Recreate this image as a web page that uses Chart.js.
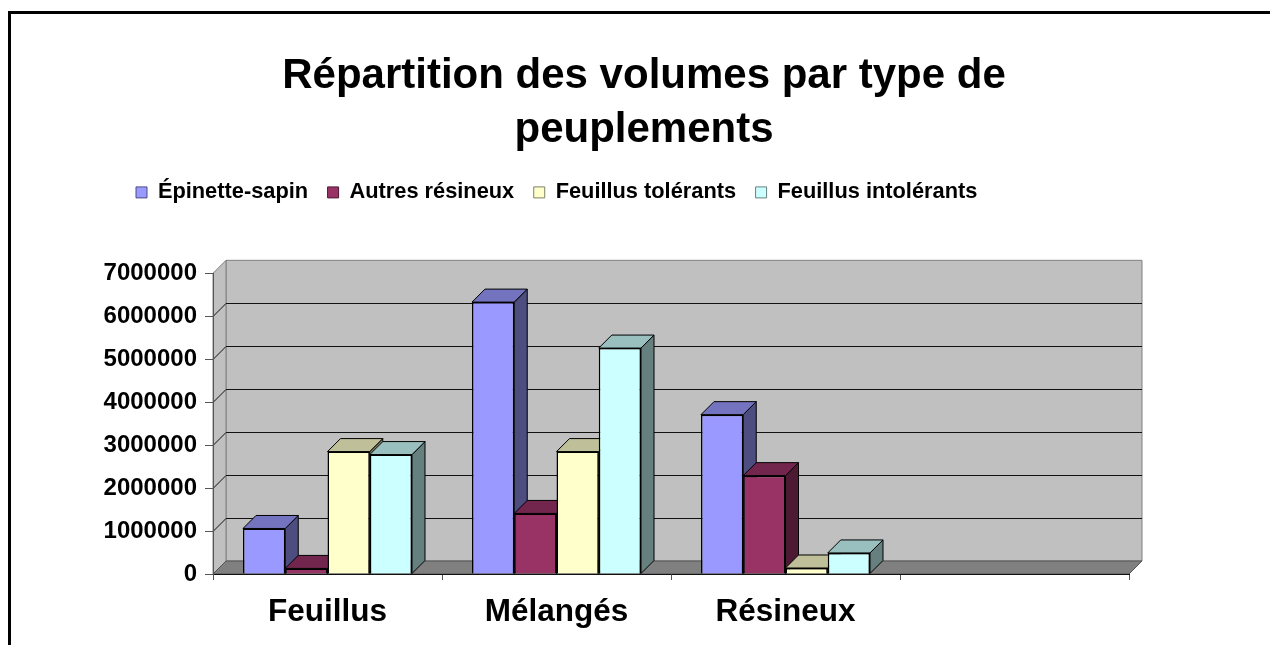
<!DOCTYPE html>
<html lang="fr">
<head>
<meta charset="utf-8">
<title>Répartition des volumes</title>
<script src="https://cdn.jsdelivr.net/npm/chart.js@4/dist/chart.umd.min.js"></script>
<style>
  body { margin: 0; background: #fff; overflow: hidden; }
  #wrap { position: relative; width: 1270px; height: 645px; }
  #frame { position: absolute; left: 8px; top: 11px; right: 0; bottom: 0; border-left: 3px solid #000; border-top: 3px solid #000; }
  canvas { position: absolute; left: 0; top: 0; }
</style>
</head>
<body>
<div id="wrap">
  <div id="frame"></div>
  <canvas id="chart" width="1270" height="645"></canvas>
</div>
<script>
const CATEGORIES = ["Feuillus", "Mélangés", "Résineux", ""];
const SERIES_NAMES = ["Épinette-sapin", "Autres résineux", "Feuillus tolérants", "Feuillus intolérants"];
const EPINETTE = [1060000, 6330000, 3710000];
const AUTRES = [130000, 1410000, 2290000];
const TOLERANTS = [2850000, 2850000, 140000];
const INTOLERANTS = [2780000, 5260000, 490000];
const Y_MAX = 7000000;
const Y_STEP = 1000000;

const FRONT = ["#9999FF", "#993366", "#FFFFCC", "#CCFFFF"];
const TOP = ["#7373BF", "#73264D", "#BFBF99", "#99BFBF"];
const SIDE = ["#4D4D80", "#4D1A33", "#808066", "#668080"];
const DEPTH = 13;
const FONT = "'Liberation Sans', Arial, sans-serif";

function poly(ctx, pts, fill, stroke) {
  ctx.beginPath();
  pts.forEach(([x, y], i) => (i ? ctx.lineTo(x, y) : ctx.moveTo(x, y)));
  ctx.closePath();
  ctx.fillStyle = fill;
  ctx.fill();
  if (stroke) {
    ctx.strokeStyle = stroke;
    ctx.lineWidth = 1;
    ctx.stroke();
  }
}

// ── Back wall, side wall, floor and grid of the fake 3D box ──
const box3d = {
  id: "box3d",
  afterLayout(chart) {
    // title and legend are not centred on the page in the original
    chart.titleBlock.left = 200;
    chart.titleBlock.right = 1088;
    chart.legend.left = 136 - 19.5;
    chart.legend.top = 162;
  },
  beforeDraw(chart) {
    const { ctx, chartArea: a, scales: { y } } = chart;
    const d = DEPTH;
    ctx.save();
    poly(ctx, [[a.left + d, a.top - d], [a.right + d, a.top - d], [a.right + d, a.bottom - d], [a.left + d, a.bottom - d]], "#C0C0C0", "#808080");
    poly(ctx, [[a.left, a.top], [a.left + d, a.top - d], [a.left + d, a.bottom - d], [a.left, a.bottom]], "#C0C0C0", "#808080");
    poly(ctx, [[a.left, a.bottom], [a.left + d, a.bottom - d], [a.right + d, a.bottom - d], [a.right, a.bottom]], "#808080", "#555");
    ctx.strokeStyle = "#111";
    ctx.lineWidth = 1;
    for (let v = Y_STEP; v < Y_MAX; v += Y_STEP) {
      const py = Math.round(y.getPixelForValue(v)) + 0.5;
      ctx.beginPath();
      ctx.moveTo(a.left, py);
      ctx.lineTo(a.left + d, py - d);
      ctx.lineTo(a.right + d, py - d);
      ctx.stroke();
    }
    ctx.restore();
  },
  // the library paints the first series last, here each bar must cover the side of its left neighbour
  beforeDatasetDraw() {
    return false;
  },
  afterDatasetsDraw(chart) {
    const { ctx } = chart;
    const d = DEPTH;
    SERIES_NAMES.forEach((name, i) => {
      const meta = chart.getDatasetMeta(i);
      ctx.save();
      meta.data.forEach(bar => {
        const x0 = bar.x - bar.width / 2;
        const x1 = bar.x + bar.width / 2;
        const yt = bar.y;
        const yb = bar.base;
        poly(ctx, [[x1, yt], [x1 + d, yt - d], [x1 + d, yb - d], [x1, yb]], SIDE[i], "#000");
        poly(ctx, [[x0, yt], [x1, yt], [x1 + d, yt - d], [x0 + d, yt - d]], TOP[i], "#000");
      });
      ctx.restore();
      meta.controller.draw();
    });
  }
};

const seriesValues = [EPINETTE, AUTRES, TOLERANTS, INTOLERANTS];

new Chart(document.getElementById("chart"), {
  type: "bar",
  data: {
    labels: CATEGORIES,
    datasets: SERIES_NAMES.map((name, i) => ({
      label: name,
      data: seriesValues[i],
      backgroundColor: FRONT[i],
      borderColor: "#000",
      borderWidth: 1.5,
      categoryPercentage: 0.738,
      barPercentage: 1
    }))
  },
  options: {
    responsive: false,
    animation: false,
    layout: { padding: { left: 0, right: 141, top: 0, bottom: 0 } },
    plugins: {
      tooltip: { enabled: false },
      title: {
        display: true,
        text: ["Répartition des volumes par type de", "peuplements"],
        color: "#000",
        font: { family: FONT, size: 42, weight: "bold", lineHeight: 1.286 },
        padding: { top: 49, bottom: 65 }
      },
      legend: {
        display: true,
        position: "top",
        align: "start",
        labels: {
          color: "#000",
          font: { family: FONT, size: 21.8, weight: "bold" },
          boxWidth: 11,
          boxHeight: 11,
          padding: 19.5,
          generateLabels: chart => chart.data.datasets.map((ds, i) => ({
            text: ds.label,
            fillStyle: FRONT[i],
            strokeStyle: SIDE[i],
            lineWidth: 1,
            datasetIndex: i
          }))
        }
      }
    },
    scales: {
      x: {
        afterFit: s => { s.height = 71; },
        grid: { drawOnChartArea: false, tickLength: 6, color: "#555" },
        border: { color: "#111", width: 1 },
        ticks: {
          color: "#000",
          font: { family: FONT, size: 31.5, weight: "bold" },
          padding: 13,
          maxRotation: 0,
          autoSkip: false
        }
      },
      y: {
        min: 0,
        max: Y_MAX,
        afterFit: s => { s.width = 213; },
        grid: { drawOnChartArea: false, tickLength: 8, color: "#555" },
        border: { color: "#555", width: 1 },
        ticks: {
          stepSize: Y_STEP,
          color: "#000",
          padding: 8,
          font: { family: FONT, size: 24, weight: "bold" },
          callback: v => String(v)
        }
      }
    }
  },
  plugins: [box3d]
});
</script>
</body>
</html>
